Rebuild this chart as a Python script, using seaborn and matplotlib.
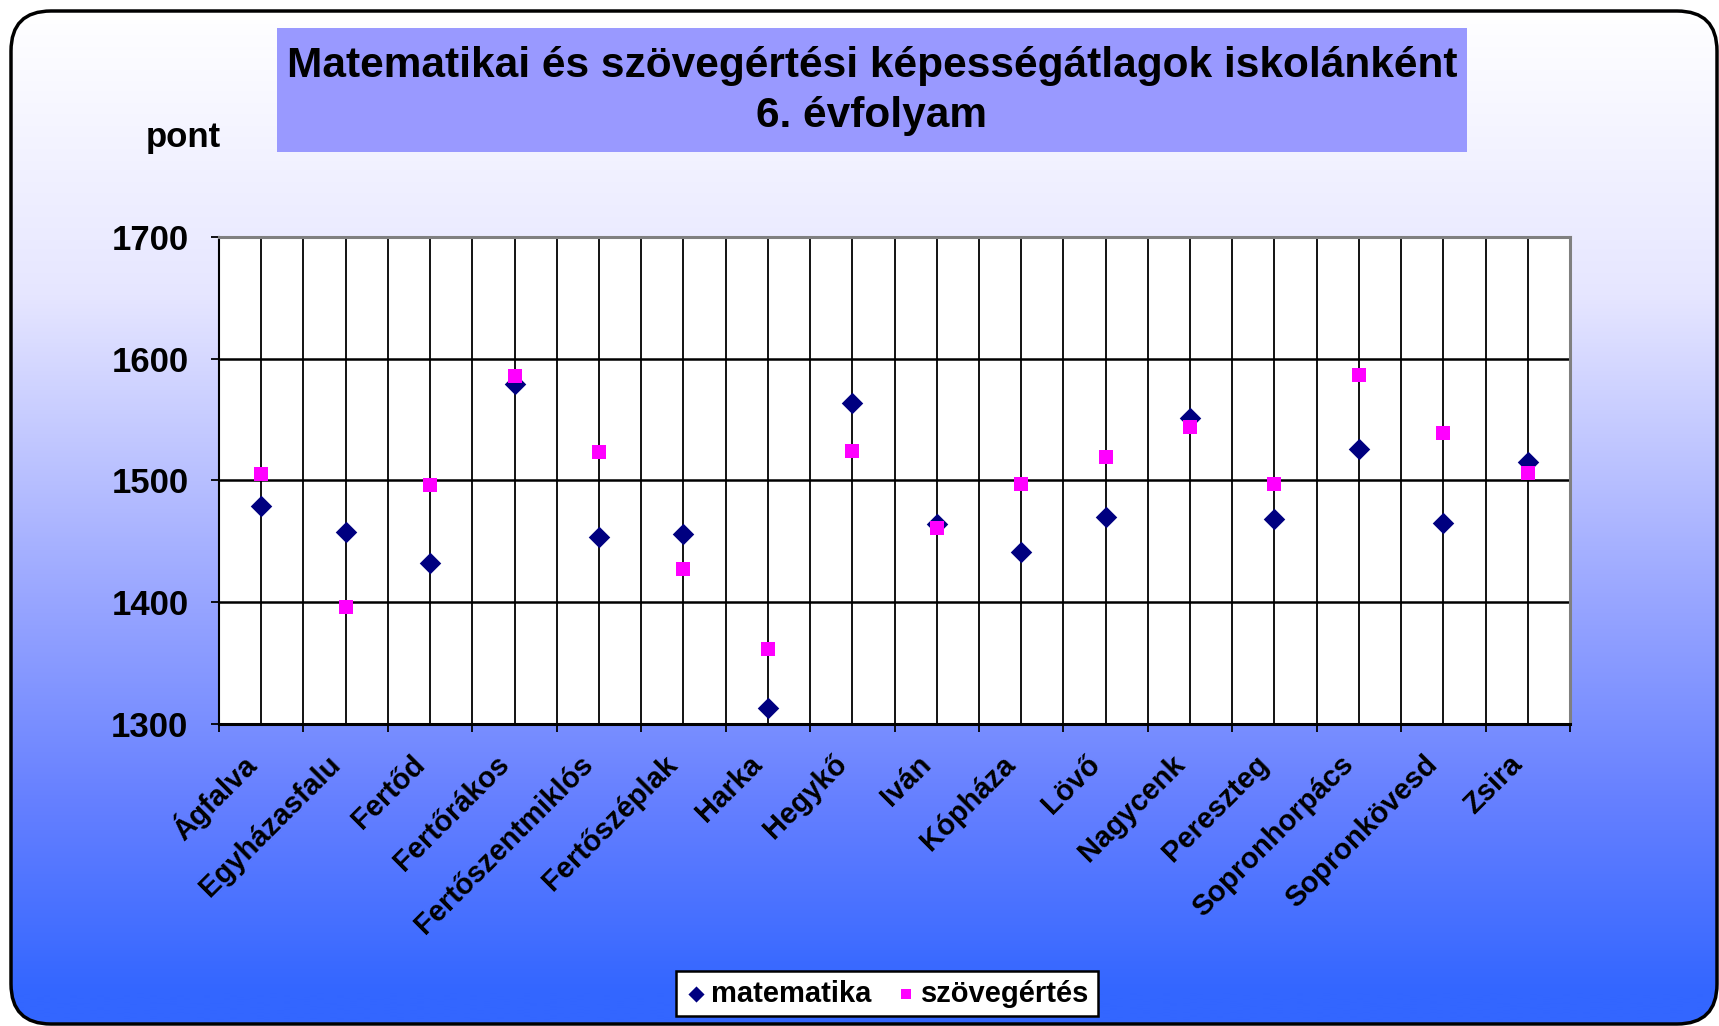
import numpy as np
import pandas as pd
import matplotlib
matplotlib.use("Agg")
import matplotlib.pyplot as plt
import seaborn as sns
from matplotlib.patches import FancyBboxPatch, Rectangle
from matplotlib.colors import LinearSegmentedColormap
from matplotlib.ticker import FixedLocator, NullFormatter
from matplotlib.transforms import ScaledTranslation

# ---------------- data ----------------
iskolak = ["Ágfalva", "Egyházasfalu", "Fertőd", "Fertőrákos", "Fertőszentmiklós",
           "Fertőszéplak", "Harka", "Hegykő", "Iván", "Kópháza", "Lövő", "Nagycenk",
           "Pereszteg", "Sopronhorpács", "Sopronkövesd", "Zsira"]
matematika = [1479, 1458, 1432, 1579, 1454, 1456, 1313, 1564, 1464, 1441, 1470, 1551,
              1468, 1526, 1465, 1515]
szovegertes = [1505, 1396, 1496, 1586, 1523, 1427, 1362, 1524, 1461, 1497, 1519, 1544,
               1497, 1587, 1539, 1506]
y_ticks = [1300, 1400, 1500, 1600, 1700]
series_names = ["matematika", "szövegértés"]
title_lines = ["Matematikai és szövegértési képességátlagok iskolánként", "6. évfolyam"]
y_title = "pont"

df = pd.concat([
    pd.DataFrame({"iskola": iskolak, "pont": matematika, "tantárgy": series_names[0]}),
    pd.DataFrame({"iskola": iskolak, "pont": szovegertes, "tantárgy": series_names[1]}),
], ignore_index=True)

# ---------------- style ----------------
sns.set_theme(style="white")
plt.rcParams["font.family"] = ["Liberation Sans", "DejaVu Sans"]
plt.rcParams["font.weight"] = "bold"
plt.rcParams["text.color"] = "black"
plt.rcParams["xtick.color"] = "black"
plt.rcParams["ytick.color"] = "black"
plt.rcParams["xtick.labelcolor"] = "black"
plt.rcParams["ytick.labelcolor"] = "black"

W, H = 1719, 1026
fig = plt.figure(figsize=(W / 100, H / 100), dpi=100)
fig.patch.set_facecolor("white")

# background gradient inside rounded frame
bg = fig.add_axes([0, 0, 1, 1], zorder=0)
bg.set_xlim(0, W)
bg.set_ylim(H, 0)
bg.axis("off")
cmap = LinearSegmentedColormap.from_list(
    "bgblue",
    [(0.0, "#FFFFFF"), (0.28, "#E6E6FF"), (0.58, "#99A6FF"),
     (0.78, "#6680FF"), (0.97, "#3366FF"), (1.0, "#3366FF")])
grad = np.linspace(0, 1, 512).reshape(-1, 1)
im = bg.imshow(grad, cmap=cmap, extent=(11, 1717, 1024, 11), aspect="auto",
               interpolation="bilinear")
frame = FancyBboxPatch((11, 11), 1706, 1013, boxstyle="round,pad=0,rounding_size=40",
                       facecolor="none", edgecolor="black", linewidth=2.5)
bg.add_patch(frame)
im.set_clip_path(frame)

# title box
bg.add_patch(Rectangle((277, 28), 1190, 124, facecolor="#9999FF", edgecolor="none"))
bg.text(872, 66, title_lines[0], ha="center", va="center", fontsize=30.5,
        fontweight="bold", color="black")
bg.text(872, 116, title_lines[1], ha="center", va="center", fontsize=30.5,
        fontweight="bold", color="black")
bg.text(183, 137, y_title, ha="center", va="center", fontsize=25,
        fontweight="bold", color="black")

# ---------------- main axes ----------------
L, R, T, B = 219, 1570, 237, 724
ax = fig.add_axes([L / W, 1 - B / H, (R - L) / W, (B - T) / H], zorder=1)
ax.set_facecolor("white")

sns.scatterplot(data=df[df["tantárgy"] == series_names[0]], x="iskola", y="pont",
                marker="D", color="#000080", s=120, linewidth=0, ax=ax,
                label=series_names[0], zorder=5)
sns.scatterplot(data=df[df["tantárgy"] == series_names[1]], x="iskola", y="pont",
                marker="s", color="#FF00FF", s=90, linewidth=0, ax=ax,
                label=series_names[1], zorder=6)

n = len(iskolak)
ax.set_xlim(-0.5, n - 0.5)
ax.set_ylim(y_ticks[0], y_ticks[-1])
ax.set_xlabel("")
ax.set_ylabel("")

# vertical lines at boundaries and centres
for xv in np.arange(-0.5, n, 0.5):
    ax.axvline(xv, color="black", linewidth=1.3, zorder=1)
for yv in y_ticks[1:-1]:
    ax.axhline(yv, color="black", linewidth=1.8, zorder=1)

ax.xaxis.set_major_locator(FixedLocator(np.arange(-0.5, n, 1.0)))
ax.xaxis.set_major_formatter(NullFormatter())
ax.set_xticks(np.arange(n), minor=True)
ax.set_xticklabels(iskolak, minor=True)
ax.tick_params(axis="x", which="major", direction="out", length=6, width=1.3,
               color="black", bottom=True)
ax.tick_params(axis="x", which="minor", length=0, pad=26, labelsize=21,
               labelcolor="black")
shift = ScaledTranslation(-10 / 100, 0, fig.dpi_scale_trans)
for lbl in ax.get_xticklabels(minor=True):
    lbl.set_rotation(45)
    lbl.set_ha("right")
    lbl.set_va("center")
    lbl.set_rotation_mode("anchor")
    lbl.set_fontweight("bold")
    lbl.set_color("black")
    lbl.set_transform(lbl.get_transform() + shift)

ax.set_yticks(y_ticks)
ax.set_yticklabels([str(v) for v in y_ticks])
ax.tick_params(axis="y", direction="out", length=6, width=1.3, color="black",
               left=True, pad=16, labelsize=25, labelcolor="black")
for lbl in ax.get_yticklabels():
    lbl.set_fontweight("bold")
    lbl.set_color("black")

ax.grid(False)
for side in ["left", "bottom"]:
    ax.spines[side].set_color("black")
ax.spines["left"].set_linewidth(1.5)
ax.spines["bottom"].set_linewidth(2.2)
for side in ["top", "right"]:
    ax.spines[side].set_color("#808080")
    ax.spines[side].set_linewidth(2.2)
    ax.spines[side].set_visible(True)

# legend
handles, labels = ax.get_legend_handles_labels()
if ax.get_legend() is not None:
    ax.get_legend().remove()
leg = fig.legend(handles, labels, loc="center", bbox_to_anchor=(887 / W, 1 - 993.5 / H),
                 ncol=2, frameon=True, fancybox=False, markerscale=0.75,
                 handletextpad=0.1, columnspacing=0.8, handlelength=0.8,
                 borderpad=0.3, prop={"weight": "bold", "size": 21})
for t in leg.get_texts():
    t.set_color("black")
leg.get_frame().set_edgecolor("black")
leg.get_frame().set_linewidth(1.8)
leg.get_frame().set_facecolor("white")
leg.get_frame().set_alpha(1)
leg.set_zorder(10)

fig.savefig("out.png", dpi=100, facecolor=fig.get_facecolor())
